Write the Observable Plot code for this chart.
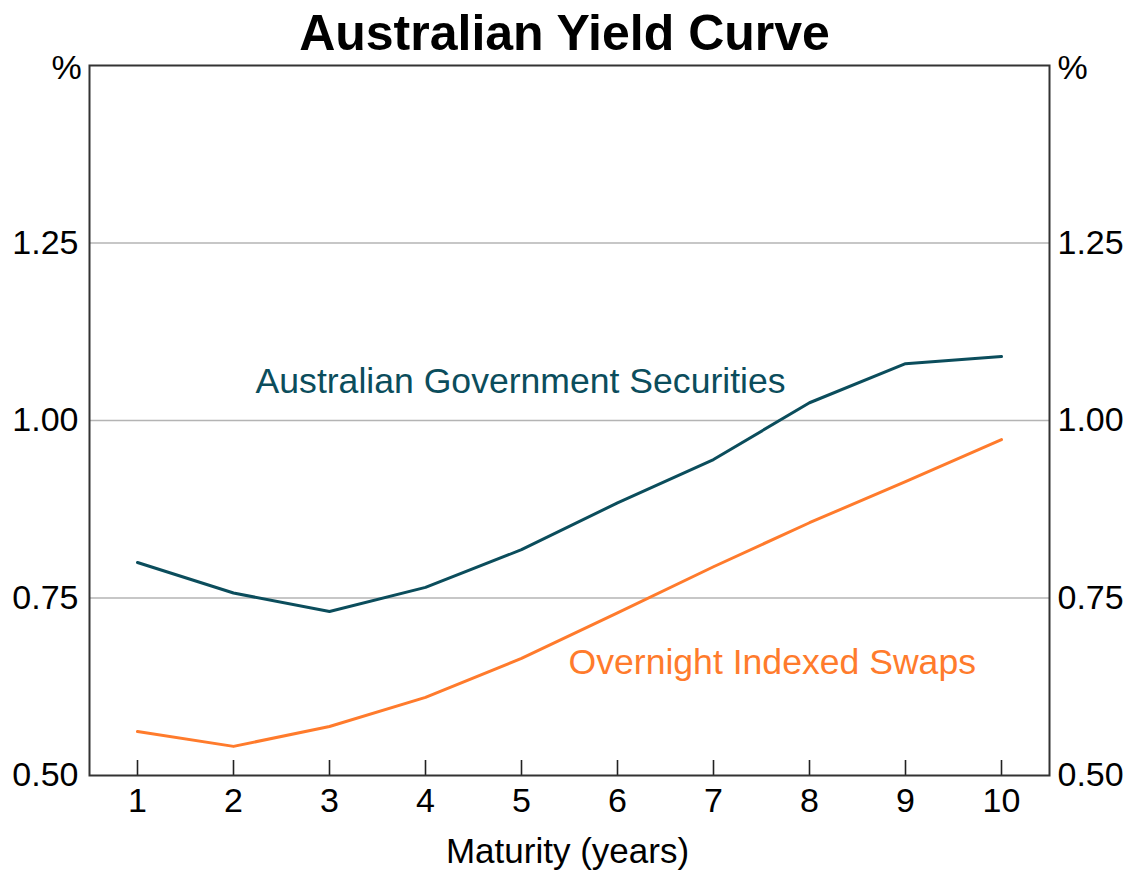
<!DOCTYPE html>
<html>
<head>
<meta charset="utf-8">
<script src="https://cdn.jsdelivr.net/npm/d3@7"></script>
<script src="https://cdn.jsdelivr.net/npm/@observablehq/plot@0.6"></script>
<style>
  html, body { margin: 0; padding: 0; background: #fff; }
  #chart { width: 1126px; height: 872px; }
</style>
</head>
<body>
<div id="chart"></div>
<script>
const maturities = [1, 2, 3, 4, 5, 6, 7, 8, 9, 10];
const agsYields = [0.800, 0.757, 0.731, 0.765, 0.818, 0.884, 0.945, 1.025, 1.080, 1.090];
const oisYields = [0.562, 0.541, 0.569, 0.610, 0.665, 0.729, 0.794, 0.856, 0.914, 0.973];
const yTicks = [0.5, 0.75, 1.0, 1.25];
const xTicks = maturities;
const seriesNames = ["Australian Government Securities", "Overnight Indexed Swaps"];
const seriesColors = ["#0b4d5c", "#ff7b2c"];
const labelX = [2.23, 5.49];
const labelY = [1.055, 0.659];

const ags = maturities.map((m, i) => ({ m, v: agsYields[i] }));
const ois = maturities.map((m, i) => ({ m, v: oisYields[i] }));
const labels = seriesNames.map((name, i) => ({ name, x: labelX[i], y: labelY[i], c: seriesColors[i] }));

const font = "'Liberation Sans', Arial, Helvetica, sans-serif";

const chart = Plot.plot({
  width: 1126,
  height: 872,
  marginLeft: 89,
  marginRight: 77,
  marginTop: 65,
  marginBottom: 97,
  style: { fontFamily: font, fontSize: "34px", color: "#000", background: "#fff" },
  x: { domain: [0.5, 10.5] },
  y: { domain: [0.5, 1.5] },
  marks: [
    Plot.gridY(yTicks.slice(1), { stroke: "#b4b4b4", strokeOpacity: 1, strokeWidth: 1.6 }),
    Plot.tickX(xTicks, { x: d => d, insetTop: 695, stroke: "#222", strokeWidth: 1.6 }),
    Plot.line(ags, { x: "m", y: "v", stroke: seriesColors[0], strokeWidth: 3 }),
    Plot.line(ois, { x: "m", y: "v", stroke: seriesColors[1], strokeWidth: 3 }),
    Plot.frame({ stroke: "#333", strokeWidth: 2 }),
    Plot.axisX(xTicks, { anchor: "bottom", tickSize: 0, tickPadding: 12, label: null, fill: "#000", fontSize: 34 }),
    Plot.axisY(yTicks, { anchor: "left", tickSize: 0, tickPadding: 11, tickFormat: d3.format(".2f"), label: null, fill: "#000", fontSize: 34 }),
    Plot.axisY(yTicks, { anchor: "right", tickSize: 0, tickPadding: 8, tickFormat: d3.format(".2f"), label: null, fill: "#000", fontSize: 34 }),
    Plot.text(["%"], { frameAnchor: "top-left", dx: -23, dy: 3, textAnchor: "middle", lineAnchor: "middle", fontSize: 34, fill: "#000" }),
    Plot.text(["%"], { frameAnchor: "top-right", dx: 23, dy: 3, textAnchor: "middle", lineAnchor: "middle", fontSize: 34, fill: "#000" }),
    Plot.text(["Maturity (years)"], { frameAnchor: "bottom", dy: 76, dx: -2, lineAnchor: "middle", fontSize: 35, fill: "#000" }),
    Plot.text(["Australian Yield Curve"], { frameAnchor: "top", dy: -32, dx: -5, lineAnchor: "middle", fontSize: 50, fontWeight: "bold", fill: "#000" }),
    Plot.text(labels, { x: "x", y: "y", text: "name", fill: "c", textAnchor: "start", lineAnchor: "middle", fontSize: 35.6 })
  ]
});
document.getElementById("chart").appendChild(chart);
</script>
</body>
</html>
